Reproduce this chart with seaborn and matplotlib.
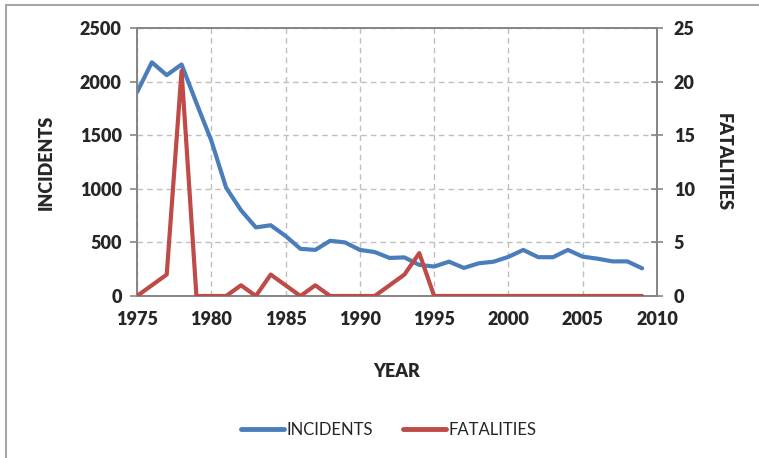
import matplotlib
matplotlib.use('Agg')
import matplotlib.pyplot as plt
import seaborn as sns
import pandas as pd
from matplotlib.patches import Rectangle
from matplotlib.lines import Line2D

years = list(range(1975, 2010))
incidents = [1900, 2180, 2060, 2160, 1800, 1450, 1010, 800, 640, 660,
             560, 440, 430, 515, 500, 430, 410, 355, 360, 290,
             275, 320, 262, 305, 320, 365, 430, 362, 362, 430,
             367, 348, 323, 323, 258]
fatalities = [0, 1, 2, 21, 0, 0, 0, 1, 0, 2,
              1, 0, 1, 0, 0, 0, 0, 1, 2, 4,
              0, 0, 0, 0, 0, 0, 0, 0, 0, 0,
              0, 0, 0, 0, 0]
year_ticks = list(range(1975, 2011, 5))
inc_ticks = list(range(0, 2501, 500))
fat_ticks = list(range(0, 26, 5))

df = pd.DataFrame({'YEAR': years, 'INCIDENTS': incidents, 'FATALITIES': fatalities})

sns.set_style('white')
plt.rcParams['font.family'] = ['Lato', 'DejaVu Sans']

blue = '#4A7EBB'
red = '#BE4B48'
spine_c = '#868686'

fig = plt.figure(figsize=(7.59, 4.58), dpi=100)
ax = fig.add_axes([137 / 759, 1 - 296 / 458, 520 / 759, 268 / 458])
ax2 = ax.twinx()

sns.lineplot(data=df, x='YEAR', y='INCIDENTS', ax=ax, color=blue, linewidth=3, zorder=3)
sns.lineplot(data=df, x='YEAR', y='FATALITIES', ax=ax2, color=red, linewidth=3, zorder=3)

ax.set_xlim(1975, 2010)
ax.set_ylim(0, 2500)
ax2.set_ylim(0, 25)
ax.set_xticks(year_ticks)
ax.set_yticks(inc_ticks)
ax2.set_yticks(fat_ticks)

ax.grid(True, linestyle=(0, (4, 3)), color='#BFBFBF', linewidth=1)
ax2.grid(False)
for a in (ax, ax2):
    for s in a.spines.values():
        s.set_color(spine_c)
        s.set_linewidth(1.3)
ax.tick_params(axis='both', which='both', direction='out', length=5, width=1.2,
               color=spine_c, labelsize=13, pad=6)
ax2.tick_params(axis='y', direction='inout', length=8, width=1.2,
                color=spine_c, labelsize=13, pad=8)
for lab in ax.get_xticklabels() + ax.get_yticklabels() + ax2.get_yticklabels():
    lab.set_fontweight('heavy')

ax.set_xlabel('YEAR', fontsize=13, fontweight='heavy', labelpad=25)
ax.set_ylabel('INCIDENTS', fontsize=13, fontweight='heavy', labelpad=18)
ax2.set_ylabel('FATALITIES', fontsize=13, fontweight='heavy', rotation=-90, labelpad=27)

handles = [Line2D([], [], color=blue, linewidth=3.5, solid_capstyle='round'),
           Line2D([], [], color=red, linewidth=3.5, solid_capstyle='round')]
fig.legend(handles, ['INCIDENTS', 'FATALITIES'], loc='center', bbox_to_anchor=(0.512, 1 - 430 / 458),
           ncol=2, frameon=False, fontsize=12, handlelength=2.6, handletextpad=0.15, columnspacing=1.8)

fig.patches.append(Rectangle((6 / 759, -0.05), 1.1, 1.05 - 5 / 458, transform=fig.transFigure,
                             fill=False, edgecolor='#A6A6A6', linewidth=1.5))

fig.savefig('out.png', dpi=100)
